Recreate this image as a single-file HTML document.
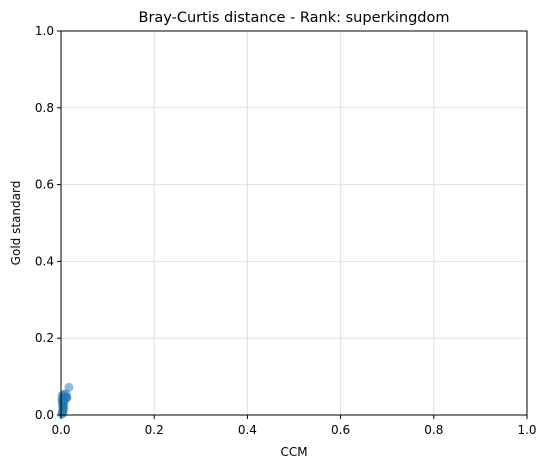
<!DOCTYPE html>
<html><head><meta charset="utf-8"><style>
body{margin:0;background:#fff;font-family:"Liberation Sans","DejaVu Sans",sans-serif;}
</style></head><body>
<svg width="547" height="468" xmlns="http://www.w3.org/2000/svg" id="svg" font-family="DejaVu Sans, Liberation Sans, sans-serif">
<rect width="547" height="468" fill="#fff"/>
<g id="grid"></g>
<g id="pts"></g>
<rect x="61" y="31" width="466" height="384" fill="none" stroke="#000" stroke-width="1"/>
<g id="ticks"></g>
<text x="294" y="22" text-anchor="middle" font-size="14.5">Bray-Curtis distance - Rank: superkingdom</text>
<text x="294" y="456" text-anchor="middle" font-size="12">CCM</text>
<text x="20" y="223" text-anchor="middle" font-size="12" transform="rotate(-90 20 223)">Gold standard</text>
</svg>
<script>
const xTicks=[0,0.2,0.4,0.6,0.8,1.0];
const yTicks=[0,0.2,0.4,0.6,0.8,1.0];
const tickLabels=["0.0","0.2","0.4","0.6","0.8","1.0"];
const xVals=[0.002,0.003,0.004,0.005,0.006,0.003,0.004,0.005,0.002,0.006,0.004,0.005,0.003,0.007,0.008,0.010,0.012,0.013,0.011,0.017,0.004,0.006,0.002,0.005];
const yVals=[0.002,0.008,0.014,0.020,0.026,0.032,0.038,0.044,0.050,0.054,0.010,0.030,0.024,0.046,0.040,0.048,0.044,0.046,0.055,0.072,0.005,0.016,0.040,0.035];
const NS="http://www.w3.org/2000/svg";
const X=v=>61+v*466, Y=v=>415-v*384;
const grid=document.getElementById('grid'),tk=document.getElementById('ticks'),pts=document.getElementById('pts');
xTicks.forEach((t,i)=>{
 let l=document.createElementNS(NS,'line');l.setAttribute('x1',X(t));l.setAttribute('x2',X(t));l.setAttribute('y1',31);l.setAttribute('y2',415);l.setAttribute('stroke','#e0e0e0');
 
 
 grid.appendChild(l);
 let m=document.createElementNS(NS,'line');m.setAttribute('x1',X(t));m.setAttribute('x2',X(t));m.setAttribute('y1',415);m.setAttribute('y2',419);m.setAttribute('stroke','#000');
 
 
 tk.appendChild(m);
 let s=document.createElementNS(NS,'text');s.setAttribute('x',X(t));s.setAttribute('y',434);s.setAttribute('text-anchor','middle');s.setAttribute('font-size','12');s.textContent=tickLabels[i];
 
 
 tk.appendChild(s);
});
yTicks.forEach((t,i)=>{
 let l=document.createElementNS(NS,'line');l.setAttribute('x1',61);l.setAttribute('x2',527);l.setAttribute('y1',Y(t));l.setAttribute('y2',Y(t));l.setAttribute('stroke','#e0e0e0');
 
 
 grid.appendChild(l);
 let m=document.createElementNS(NS,'line');m.setAttribute('x1',57);m.setAttribute('x2',61);m.setAttribute('y1',Y(t));m.setAttribute('y2',Y(t));m.setAttribute('stroke','#000');
 
 
 tk.appendChild(m);
 let s=document.createElementNS(NS,'text');s.setAttribute('x',54);s.setAttribute('y',Y(t)+4);s.setAttribute('text-anchor','end');s.setAttribute('font-size','12');s.textContent=tickLabels[i];
 
 
 tk.appendChild(s);
});
xVals.forEach((v,i)=>{
 let c=document.createElementNS(NS,'circle');c.setAttribute('cx',X(v));c.setAttribute('cy',Y(yVals[i]));c.setAttribute('r',4.5);c.setAttribute('fill','#1f77b4');c.setAttribute('fill-opacity','0.5');
 
 
 pts.appendChild(c);
});
</script>
</body></html>
